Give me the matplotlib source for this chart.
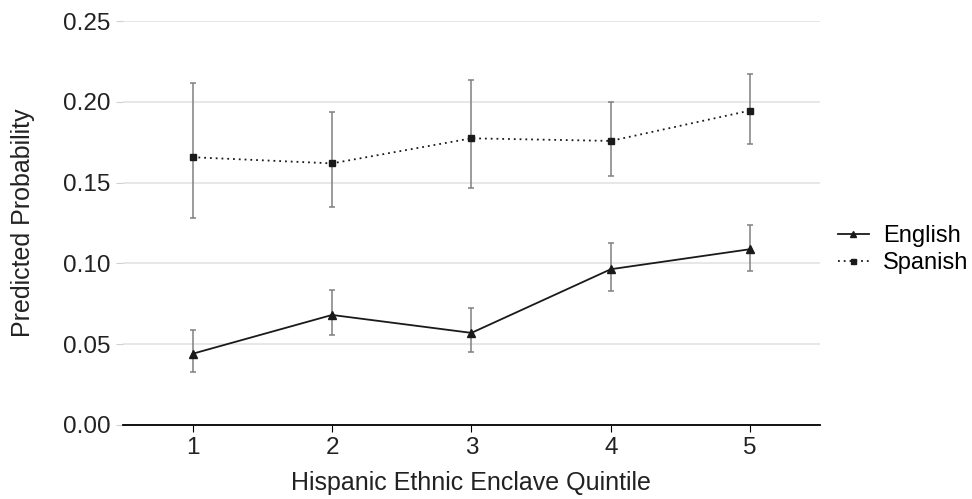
import matplotlib.pyplot as plt

plt.rcParams['font.family'] = ['Liberation Sans', 'DejaVu Sans']

quintile = [1, 2, 3, 4, 5]

english = [0.0441, 0.0681, 0.0570, 0.0964, 0.1088]
english_lo = [0.0330, 0.0559, 0.0450, 0.0828, 0.0955]
english_hi = [0.0588, 0.0836, 0.0726, 0.1125, 0.1240]

spanish = [0.1657, 0.1619, 0.1774, 0.1758, 0.1946]
spanish_lo = [0.1284, 0.1346, 0.1465, 0.1540, 0.1740]
spanish_hi = [0.2115, 0.1940, 0.2135, 0.2000, 0.2173]

fig = plt.figure(figsize=(9.72, 4.99), dpi=100)
ax = fig.add_axes([0.1265, 0.1483, 0.717, 0.8096])

def draw(y, lo, hi, ls, marker, ms, label):
    yerr = [[a - b for a, b in zip(y, lo)], [b - a for a, b in zip(y, hi)]]
    ax.errorbar(quintile, y, yerr=yerr, fmt='none', ecolor='#808080',
                elinewidth=1.1, capsize=2.5, capthick=1.1, zorder=2)
    line, = ax.plot(quintile, y, color='#1a1a1a', linestyle=ls, linewidth=1.3,
                    marker=marker, markersize=ms, label=label, zorder=3)
    return line

draw(english, english_lo, english_hi, '-', '^', 5.5, 'English')
sp = draw(spanish, spanish_lo, spanish_hi, ':', 's', 4.5, 'Spanish')
sp.set_dashes((1, 2.2))

ax.set_xlim(0.5, 5.5)
ax.set_ylim(0, 0.25)
ax.set_xticks(quintile)
ax.set_yticks([0, 0.05, 0.10, 0.15, 0.20, 0.25])
ax.set_yticklabels(['0.00', '0.05', '0.10', '0.15', '0.20', '0.25'])

ax.grid(axis='y', color='#e3e3e3', linewidth=1.2)
ax.set_axisbelow(True)
for s in ['top', 'right', 'left']:
    ax.spines[s].set_visible(False)
ax.spines['bottom'].set_color('black')
ax.spines['bottom'].set_linewidth(1.3)
ax.tick_params(axis='y', length=5, color='#d0d0d0', labelsize=17.5, labelcolor='#222222', pad=4)
ax.tick_params(axis='x', length=5, color='black', labelsize=17.5, labelcolor='#222222', pad=4)

ax.set_xlabel('Hispanic Ethnic Enclave Quintile', fontsize=18, color='#222222', labelpad=8)
ax.set_ylabel('Predicted Probability', fontsize=18, color='#222222', labelpad=20)

fig.legend(*ax.get_legend_handles_labels(), loc='center left',
           bbox_to_anchor=(0.862, 0.5), frameon=False,
           fontsize=17, handlelength=1.3, handletextpad=0.6, labelspacing=0.2,
           borderaxespad=0.0, borderpad=0.0, markerscale=0.8)

fig.savefig('out.png', dpi=100)
